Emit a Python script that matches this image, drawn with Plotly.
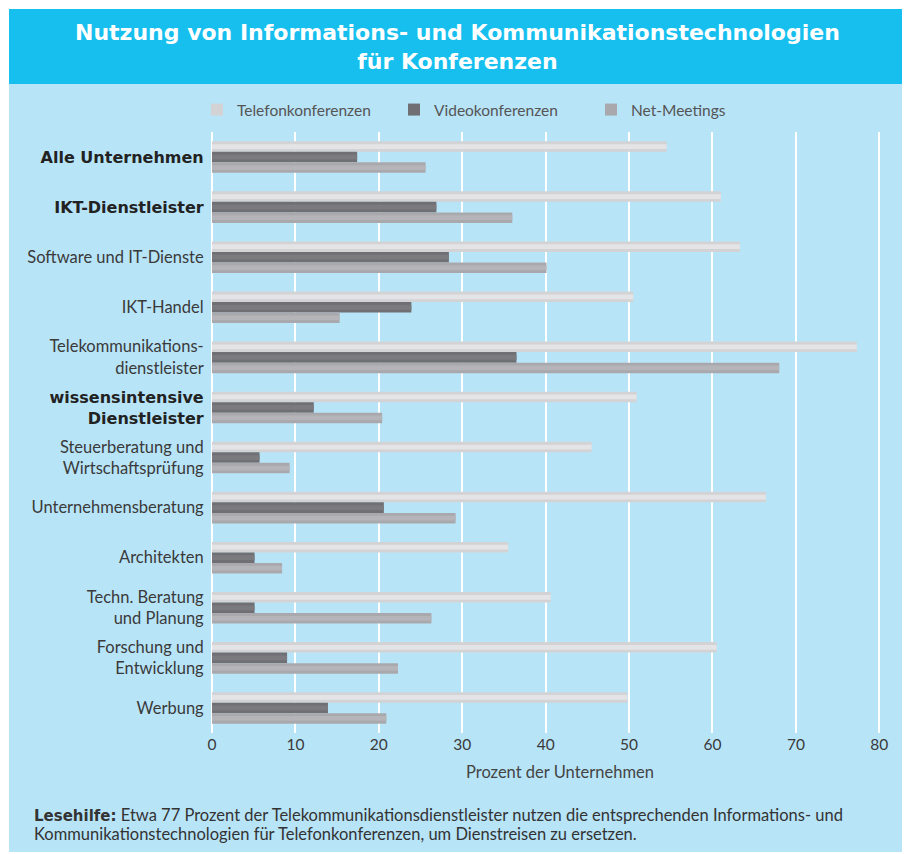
import plotly.graph_objects as go

BOLD_FONT = "DejaVu Sans"


def bold(s):
    return '<span style="font-family:DejaVu Sans;font-weight:bold;font-size:16px;fill:#222222">' + s + "</span>"


categories = [
    bold("Alle Unternehmen"),
    bold("IKT-Dienstleister"),
    "Software und IT-Dienste",
    "IKT-Handel",
    "Telekommunikations-<br>dienstleister",
    bold("wissensintensive") + "<br>" + bold("Dienstleister"),
    "Steuerberatung und<br>Wirtschaftsprüfung",
    "Unternehmensberatung",
    "Architekten",
    "Techn. Beratung<br>und Planung",
    "Forschung und<br>Entwicklung",
    "Werbung",
]
telefon = [54.5, 61.0, 63.3, 50.5, 77.3, 50.9, 45.5, 66.4, 35.5, 40.6, 60.5, 49.8]
video = [17.4, 26.9, 28.4, 23.9, 36.5, 12.2, 5.7, 20.6, 5.1, 5.1, 9.0, 13.9]
net = [25.6, 36.0, 40.1, 15.3, 68.0, 20.4, 9.3, 29.2, 8.4, 26.3, 22.3, 20.9]
series_names = ["Telefonkonferenzen", "Videokonferenzen", "Net-Meetings"]
x_ticks = [0, 10, 20, 30, 40, 50, 60, 70, 80]

# page is shown with an 8px body margin; work in page pixels and convert
OFF = 8
W_FIG, H_FIG = 910, 854
L, R, T, B = 212 - OFF, 906 - OFF, 132 - OFF, 733 - OFF
PW, PH = R - L, B - T


def px(x):
    return (x - OFF - L) / PW


def py(y):
    return (B - (y - OFF)) / PH


FONT = "Lato"
colors = ["#D3D3D5", "#707074", "#A9A9AD"]
highlights = ["#E4E4E6", "#7B7B7F", "#B5B5B9"]
BARGAP = 0.37
SLOT = (1 - BARGAP) / 3

fig = go.Figure()
for i, (name, vals, col) in enumerate(zip(series_names, [telefon, video, net], colors)):
    fig.add_trace(go.Bar(
        y=categories, x=vals, name=name, orientation="h", offsetgroup=str(i),
        marker=dict(color=col, line=dict(width=0)),
    ))
for i, (name, vals, col) in enumerate(zip(series_names, [telefon, video, net], highlights)):
    fig.add_trace(go.Bar(
        y=categories, x=vals, name=name, orientation="h", offsetgroup=str(i),
        width=SLOT * 0.45, showlegend=False, hoverinfo="skip",
        marker=dict(color=col, line=dict(width=0)),
    ))

fig.update_layout(
    width=W_FIG, height=H_FIG,
    margin=dict(l=L, r=W_FIG - R, t=T, b=H_FIG - B, pad=0),
    paper_bgcolor="white",
    plot_bgcolor="rgba(0,0,0,0)",
    barmode="group",
    bargap=BARGAP,
    bargroupgap=0,
    font=dict(family=FONT, size=16, color="#3a3a3a"),
    showlegend=True,
    legend=dict(
        orientation="h", x=px(197), y=py(110), xanchor="left", yanchor="middle",
        font=dict(size=15.5, color="#555555", family=FONT),
        entrywidth=152, entrywidthmode="pixels", itemwidth=30,
        bgcolor="rgba(0,0,0,0)", traceorder="normal",
    ),
    xaxis=dict(
        range=[0, 83.2], tickvals=x_ticks, showgrid=True, gridcolor="white",
        gridwidth=2, zeroline=True, zerolinecolor="white", zerolinewidth=2,
        showline=False, ticks="", tickfont=dict(size=15.5, color="#3a3a3a"),
        fixedrange=True,
    ),
    yaxis=dict(
        autorange="reversed", showgrid=False, ticks="outside", ticklen=4,
        tickcolor="rgba(0,0,0,0)", tickfont=dict(size=16.5, color="#3a3a3a"),
        showline=False, fixedrange=True,
    ),
    shapes=[
        dict(type="rect", xref="paper", yref="paper", x0=px(9), x1=px(905),
             y0=py(852), y1=py(9), fillcolor="#B8E4F8", line=dict(width=0), layer="below"),
        dict(type="rect", xref="paper", yref="paper", x0=px(9), x1=px(905),
             y0=py(84), y1=py(9), fillcolor="#17BFEF", line=dict(width=0), layer="below"),
    ],
    annotations=[
        dict(text="<b>Nutzung von Informations- und Kommunikationstechnologien<br>für Konferenzen</b>",
             xref="paper", yref="paper", x=px(457), y=py(47), xanchor="center", yanchor="middle",
             showarrow=False, font=dict(size=22, color="white", family=BOLD_FONT)),
        dict(text="Prozent der Unternehmen", xref="paper", yref="paper",
             x=px(560), y=py(772), xanchor="center", yanchor="middle", showarrow=False,
             font=dict(size=16.5, color="#444444", family=FONT)),
        dict(text='<span style="font-family:DejaVu Sans;font-weight:bold;font-size:15px">Lesehilfe:</span> Etwa 77 Prozent der Telekommunikationsdienstleister nutzen die entsprechenden Informations- und',
             xref="paper", yref="paper", x=px(32), y=py(815), xanchor="left", yanchor="middle",
             align="left", showarrow=False, font=dict(size=16.5, color="#333333", family=FONT)),
        dict(text="Kommunikationstechnologien für Telefonkonferenzen, um Dienstreisen zu ersetzen.",
             xref="paper", yref="paper", x=px(32), y=py(834), xanchor="left", yanchor="middle",
             align="left", showarrow=False, font=dict(size=16.5, color="#333333", family=FONT)),
    ],
)

fig.write_html("out.html")
